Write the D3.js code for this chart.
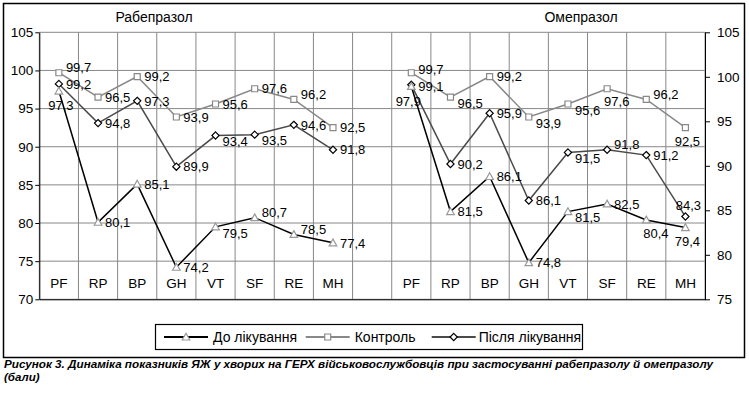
<!DOCTYPE html>
<html>
<head>
<meta charset="utf-8">
<script src="https://cdn.jsdelivr.net/npm/d3@7"></script>
<style>
  body { margin: 0; background: #fff; }
  svg { display: block; font-family: "Liberation Sans", Arial, sans-serif; }
</style>
</head>
<body>
<script>
const categories = ['PF', 'RP', 'BP', 'GH', 'VT', 'SF', 'RE', 'MH'];
const panelTitles = ['Рабепразол', 'Омепразол'];

// left panel (rabeprazole)
const rabBefore = [97.3, 80.1, 85.1, 74.2, 79.5, 80.7, 78.5, 77.4];
const rabControl = [99.7, 96.5, 99.2, 93.9, 95.6, 97.6, 96.2, 92.5];
const rabAfter = [99.2, 94.8, 97.3, 89.9, 93.4, 93.5, 94.6, 91.8];

// right panel (omeprazole)
const omeBefore = [97.9, 81.5, 86.1, 74.8, 81.5, 82.5, 80.4, 79.4];
const omeControl = [99.7, 96.5, 99.2, 93.9, 95.6, 97.6, 96.2, 92.5];
const omeAfter = [99.1, 90.2, 95.9, 86.1, 91.5, 91.8, 91.2, 84.3];

const leftTicks = [70, 75, 80, 85, 90, 95, 100, 105];
const rightTicks = [75, 80, 85, 90, 95, 100, 105];

const legendNames = ['До лікування', 'Контроль', 'Після лікування'];
const caption = ['Рисунок 3. Динаміка показників ЯЖ у хворих на ГЕРХ військовослужбовців при застосуванні рабепразолу й омепразолу', '(бали)'];

// where each data label sits relative to its point
const rabBeforeLbl = ['b', 'r', 'r', 'r', 'rd', 'ru', 'ru', 'r'];
const rabControlLbl = ['ru', 'r', 'r', 'r', 'r', 'r', 'ru', 'r'];
const rabAfterLbl = ['r', 'r', 'r', 'r', 'rd', 'rd', 'r', 'r'];
const omeBeforeLbl = ['bl', 'r', 'r', 'r', 'rd', 'r', 'br', 'b'];
const omeControlLbl = ['rs', 'rd', 'r', 'rd', 'rd', 'br', 'ru', 'b'];
const omeAfterLbl = ['rt', 'r', 'r', 'r', 'rd', 'ru', 'r', 'a'];

const W = 749, H = 395;
const font = '"Liberation Sans", Arial, sans-serif';

const svg = d3.select('body').append('svg')
  .attr('width', W)
  .attr('height', H);

// outer frame
svg.append('rect')
  .attr('x', 3.5).attr('y', 3.5)
  .attr('width', 741).attr('height', 354)
  .attr('fill', 'none')
  .attr('stroke', '#000')
  .attr('stroke-width', 1.5);

// 17 slots: 8 categories, a gap, 8 categories
const slots = categories.map(c => 'L-' + c)
  .concat(['gap'])
  .concat(categories.map(c => 'R-' + c));

const x = d3.scaleBand().domain(slots).range([39.3, 705]).padding(0);
const yL = d3.scaleLinear().domain([70, 105]).range([299.3, 32.3]);
const yR = d3.scaleLinear().domain([75, 105]).range([299.3, 32.3]);
const cx = key => x(key) + x.bandwidth() / 2;

// grid
const grid = svg.append('g').attr('stroke', '#888').attr('stroke-width', 1);
grid.selectAll('line.h').data(leftTicks).join('line')
  .attr('class', 'h')
  .attr('x1', 39.3).attr('x2', 705)
  .attr('y1', d => yL(d)).attr('y2', d => yL(d));
grid.selectAll('line.v').data(slots.map(s => x(s)).concat([705])).join('line')
  .attr('class', 'v')
  .attr('x1', d => d).attr('x2', d => d)
  .attr('y1', yL(105)).attr('y2', yL(70));

// axes
const styleAxis = g => {
  g.attr('font-family', font).attr('font-size', 13.5);
  g.selectAll('path, line').attr('stroke', '#000');
  g.selectAll('text').attr('fill', '#000');
};

svg.append('g')
  .attr('transform', 'translate(39.3,0)')
  .call(d3.axisLeft(yL).tickValues(leftTicks).tickSize(4).tickSizeOuter(0).tickPadding(2))
  .call(styleAxis);

svg.append('g')
  .attr('transform', 'translate(705,0)')
  .call(d3.axisRight(yR).tickValues(rightTicks).tickSize(5).tickSizeOuter(0).tickPadding(7))
  .call(styleAxis);

const xAxis = svg.append('g')
  .attr('transform', 'translate(0,299.3)')
  .call(d3.axisBottom(x).tickSize(0).tickSizeOuter(0).tickFormat(k => k.split('-')[1] || ''))
  .call(styleAxis);
xAxis.selectAll('text').attr('y', -11).attr('dy', 0);

// panel titles
svg.selectAll('text.title').data(panelTitles).join('text')
  .attr('class', 'title')
  .attr('x', (d, i) => i === 0 ? 154 : 581)
  .attr('y', 22)
  .attr('text-anchor', 'middle')
  .attr('font-size', 14)
  .attr('fill', '#000')
  .text(d => d);

// series
const series = [
  { name: legendNames[1], values: [rabControl, omeControl], labels: [rabControlLbl, omeControlLbl],
    scale: yL, line: '#888', marker: 'square', markerStroke: '#888' },
  { name: legendNames[2], values: [rabAfter, omeAfter], labels: [rabAfterLbl, omeAfterLbl],
    scale: yR, line: '#4a4a4a', marker: 'diamond', markerStroke: '#000' },
  { name: legendNames[0], values: [rabBefore, omeBefore], labels: [rabBeforeLbl, omeBeforeLbl],
    scale: yL, line: '#000', marker: 'triangle', markerStroke: '#999' }
];

const markerPath = {
  square: 'M-3,-3H3V3H-3Z',
  diamond: 'M0,-3.6L3.6,0L0,3.6L-3.6,0Z',
  triangle: 'M0,-3.8L3.8,3L-3.8,3Z'
};

const fmt = v => d3.format('.1f')(v).replace('.', ',');

const labelPos = {
  r:  (px, py) => [px + 7, py, 'start'],
  rs: (px, py) => [px + 7, py - 3, 'start'],
  rt: (px, py) => [px + 7, py + 2, 'start'],
  rd: (px, py) => [px + 7, py + 6, 'start'],
  ru: (px, py) => [px + 7, py - 5.5, 'start'],
  b:  (px, py) => [px + 2, py + 14, 'middle'],
  bl: (px, py) => [px - 3, py + 15, 'middle'],
  br: (px, py) => [px - 3, py + 13, 'start'],
  a:  (px, py) => [px + 3, py - 11, 'middle']
};

const plot = svg.append('g');

series.forEach(s => {
  ['L', 'R'].forEach((side, p) => {
    const pts = categories.map((c, i) => ({
      px: cx(side + '-' + c),
      py: s.scale(s.values[p][i]),
      v: s.values[p][i],
      lbl: s.labels[p][i]
    }));

    plot.append('path')
      .datum(pts)
      .attr('fill', 'none')
      .attr('stroke', s.line)
      .attr('stroke-width', 1.5)
      .attr('d', d3.line().x(d => d.px).y(d => d.py));

    plot.append('g').selectAll('path').data(pts).join('path')
      .attr('d', markerPath[s.marker])
      .attr('transform', d => `translate(${d.px},${d.py})`)
      .attr('fill', '#fff')
      .attr('stroke', s.markerStroke)
      .attr('stroke-width', 1.2);

    plot.append('g').selectAll('text').data(pts).join('text')
      .each(function (d) {
        const [tx, ty, anchor] = labelPos[d.lbl](d.px, d.py);
        d3.select(this)
          .attr('x', tx).attr('y', ty)
          .attr('dy', '0.36em')
          .attr('text-anchor', anchor);
      })
      .attr('font-size', 13)
      .attr('fill', '#000')
      .text(d => fmt(d.v));
  });
});

// legend
const legend = svg.append('g');
legend.append('rect')
  .attr('x', 155.5).attr('y', 324.5)
  .attr('width', 427).attr('height', 25)
  .attr('fill', '#fff')
  .attr('stroke', '#000')
  .attr('stroke-width', 1.2);

const legendX = [164, 305.7, 431.7];
const legendOrder = [series[2], series[0], series[1]];
legendOrder.forEach((s, i) => {
  const g = legend.append('g').attr('transform', `translate(${legendX[i]},337)`);
  g.append('line')
    .attr('x1', 0).attr('x2', 44)
    .attr('stroke', s.line)
    .attr('stroke-width', i === 0 ? 2 : 1.8);
  g.append('path')
    .attr('d', markerPath[s.marker])
    .attr('transform', 'translate(22,0)')
    .attr('fill', '#fff')
    .attr('stroke', s.markerStroke)
    .attr('stroke-width', 1.2);
  g.append('text')
    .attr('x', i === 2 ? 47 : 49)
    .attr('y', 0)
    .attr('dy', '0.36em')
    .attr('font-size', 14)
    .attr('fill', '#000')
    .text(s.name);
});

// caption
svg.selectAll('text.caption').data(caption).join('text')
  .attr('class', 'caption')
  .attr('x', 4)
  .attr('y', (d, i) => 368 + i * 12.5)
  .attr('font-size', 11.5)
  .attr('font-weight', 'bold')
  .attr('font-style', 'italic')
  .attr('fill', '#000')
  .attr('textLength', (d, i) => i === 0 ? 709 : null)
  .attr('lengthAdjust', 'spacingAndGlyphs')
  .text(d => d);
</script>
</body>
</html>
